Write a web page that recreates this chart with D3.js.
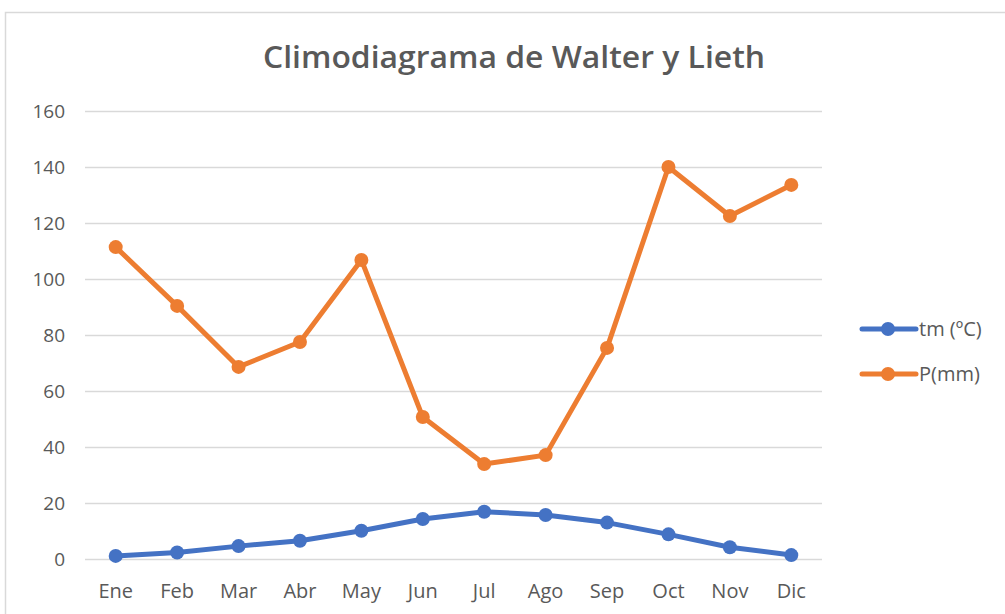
<!DOCTYPE html>
<html>
<head>
<meta charset="utf-8">
<script src="https://cdn.jsdelivr.net/npm/d3@7"></script>
<style>
  html, body { margin: 0; padding: 0; background: #fff; }
  svg { display: block; }
</style>
</head>
<body>
<div id="chart"></div>
<script>
const months = ["Ene","Feb","Mar","Abr","May","Jun","Jul","Ago","Sep","Oct","Nov","Dic"];
const tempValues = [1.1, 2.3, 4.6, 6.5, 10.1, 14.3, 16.9, 15.7, 13.0, 8.8, 4.2, 1.4];
const precipValues = [111.4, 90.4, 68.6, 77.5, 106.8, 50.7, 33.9, 37.1, 75.4, 140.0, 122.5, 133.6];
const yTicks = [0, 20, 40, 60, 80, 100, 120, 140, 160];
const seriesNames = ["tm (ºC)", "P(mm)"];
const seriesColors = ["#4472C4", "#ED7D31"];

const W = 1005, H = 614;
const font = "'Open Sans', 'Noto Sans', sans-serif";
const svg = d3.select("#chart").append("svg").attr("width", W).attr("height", H);

// chart border
svg.append("rect").attr("x", 5.5).attr("y", 12.5).attr("width", W + 10).attr("height", H + 10)
  .attr("fill", "#fff").attr("stroke", "#d9d9d9").attr("stroke-width", 1.5);

svg.append("text").attr("x", 514).attr("y", 68).attr("text-anchor", "middle")
  .attr("font-family", font).attr("font-weight", 600).attr("font-size", 30)
  .attr("textLength", 502).attr("lengthAdjust", "spacingAndGlyphs")
  .attr("fill", "#595959").text("Climodiagrama de Walter y Lieth");

const x = d3.scaleBand().domain(months).range([85, 822]);
const y = d3.scaleLinear().domain([0, 160]).range([559, 111]);

// gridlines
const yAxis = d3.axisLeft(y).tickValues(yTicks).tickSize(-(822 - 85)).tickPadding(20);
const gy = svg.append("g").attr("transform", "translate(85,0)").call(yAxis);
gy.select(".domain").remove();
gy.selectAll(".tick line").attr("stroke", "#d9d9d9").attr("stroke-width", 1.5);
gy.selectAll(".tick text").attr("font-family", font).attr("font-size", 19).attr("fill", "#595959");

const xAxis = d3.axisBottom(x).tickSize(0).tickPadding(25);
const gx = svg.append("g").attr("transform", "translate(0,559)").call(xAxis);
gx.select(".domain").remove();
gx.selectAll(".tick text").attr("font-family", font).attr("font-size", 20).attr("fill", "#595959");

const series = [tempValues, precipValues];
const line = d3.line().x((d, i) => x(months[i]) + x.bandwidth() / 2).y(d => y(d));

series.forEach((vals, k) => {
  svg.append("path").datum(vals).attr("d", line).attr("fill", "none")
    .attr("stroke", seriesColors[k]).attr("stroke-width", 5).attr("stroke-linejoin", "round").attr("stroke-linecap", "round");
  svg.selectAll(null).data(vals).enter().append("circle")
    .attr("cx", (d, i) => x(months[i]) + x.bandwidth() / 2).attr("cy", d => y(d))
    .attr("r", 7).attr("fill", seriesColors[k]);
});

// legend
const legendY = [329, 374];
seriesNames.forEach((name, k) => {
  const g = svg.append("g").attr("transform", `translate(0,${legendY[k]})`);
  g.append("line").attr("x1", 862).attr("x2", 916).attr("y1", 0).attr("y2", 0)
    .attr("stroke", seriesColors[k]).attr("stroke-width", 5).attr("stroke-linecap", "round");
  g.append("circle").attr("cx", 888).attr("cy", 0).attr("r", 7).attr("fill", seriesColors[k]);
  g.append("text").attr("x", 919).attr("y", 0).attr("dy", "0.35em")
    .attr("font-family", font).attr("font-size", 20).attr("fill", "#595959").text(name);
});
</script>
</body>
</html>
